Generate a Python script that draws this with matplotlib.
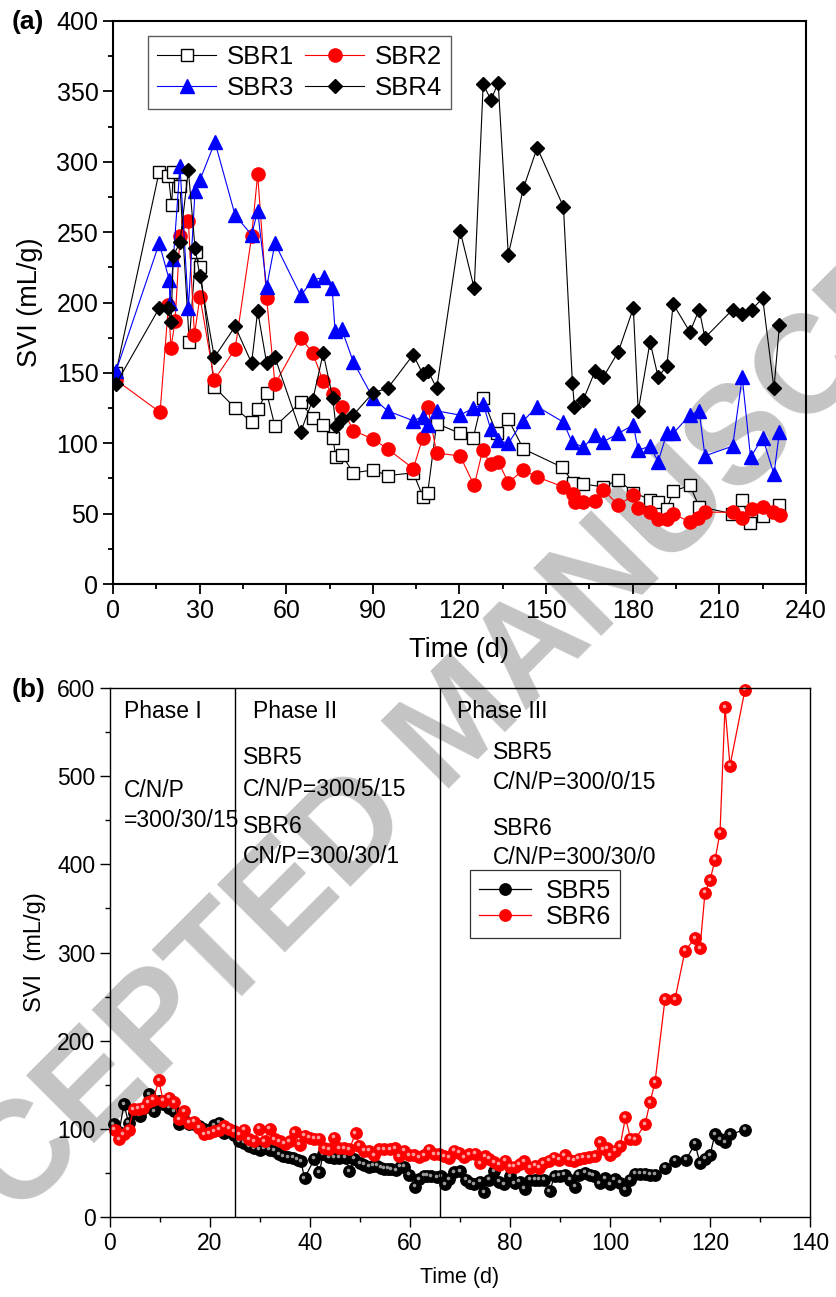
import matplotlib
matplotlib.use("Agg")
import matplotlib.pyplot as plt
from matplotlib.ticker import MultipleLocator
from matplotlib.transforms import offset_copy

# ---- panel (a): SVI of SBR1-SBR4 ----
days_sbr1 = [1, 16.0, 19.2, 20.3, 20.9, 23.2, 26.4, 28.7, 30.1, 35.1,
             42.3, 48.0, 50.1, 53.2, 56.1, 65.0, 69.2, 72.8, 76.1, 77.2,
             79.2, 83.2, 90.1, 95.1, 104.0, 107.3, 109.0, 112.1, 120.2, 124.8,
             128.0, 132.9, 136.9, 142.1, 155.5, 159.4, 162.9, 169.8, 175.0, 180.2,
             186.0, 188.8, 191.8, 194.0, 199.8, 203.0, 214.3, 217.9, 220.6, 225.0,
             230.8]
svi_sbr1 = [150, 293, 290, 269, 293, 283, 172, 236, 225, 140,
            125, 115, 124, 136, 112, 129, 118, 113, 104, 90,
            92, 79, 81, 77, 79, 62, 65, 114, 107, 104,
            132, 107, 117, 96, 83, 72, 71, 69, 74, 65,
            60, 58, 53, 66, 70, 55, 50, 60, 43, 48,
            56]

days_sbr2 = [1, 16.3, 19.2, 20.1, 21.5, 23.2, 26.1, 28.2, 30.1, 35.1,
             42.3, 48.0, 50.1, 53.2, 56.1, 65.0, 69.2, 72.8, 76.3, 79.2,
             83.2, 90.1, 95.1, 104.0, 107.3, 109.0, 112.1, 120.2, 125.1, 128.0,
             130.8, 133.4, 136.9, 142.1, 146.9, 156.0, 159.4, 160.0, 162.9, 166.9,
             169.8, 175.0, 180.2, 181.9, 186.0, 188.8, 191.8, 194.0, 199.8, 202.7,
             205.0, 214.6, 217.7, 221.2, 225.0, 228.7, 231.0]
svi_sbr2 = [145, 122, 198, 168, 187, 247, 258, 177, 204, 145,
            167, 247, 291, 203, 142, 175, 164, 144, 135, 126,
            109, 103, 96, 82, 104, 126, 93, 91, 70, 95,
            85, 87, 72, 81, 76, 69, 64, 58, 58, 59,
            67, 56, 63, 54, 51, 46, 46, 50, 44, 47,
            51, 51, 47, 53, 55, 51, 49]

days_sbr3 = [1, 16.0, 19.5, 19.7, 20.9, 23.2, 26.1, 28.4, 30.1, 35.3,
             42.3, 48.0, 50.1, 53.2, 56.1, 65.0, 69.2, 73.2, 75.9, 76.9,
             79.2, 83.2, 90.1, 95.1, 104.0, 107.3, 109.0, 112.1, 120.2, 124.8,
             128.2, 130.8, 133.4, 136.9, 142.1, 146.9, 156.0, 158.9, 162.9, 166.9,
             169.8, 175.0, 180.2, 181.9, 186.0, 188.8, 191.8, 194.0, 199.8, 203.0,
             205.0, 214.6, 217.9, 220.8, 225.0, 228.9, 230.8]
svi_sbr3 = [151, 242, 216, 200, 231, 297, 196, 279, 287, 314,
            262, 248, 265, 211, 242, 205, 216, 218, 210, 180,
            181, 158, 132, 123, 116, 119, 113, 123, 120, 125,
            128, 110, 102, 100, 116, 126, 115, 101, 97, 106,
            101, 107, 113, 95, 98, 87, 107, 107, 120, 123,
            91, 98, 147, 90, 104, 78, 108]

days_sbr4 = [1, 16.0, 19.2, 20.1, 20.9, 23.2, 26.1, 28.4, 30.1, 35.1,
             42.3, 48.0, 50.1, 53.2, 56.1, 65.0, 69.2, 72.8, 76.1, 77.2,
             79.2, 83.2, 90.1, 95.1, 104.0, 107.3, 109.2, 112.1, 120.2, 125.1,
             128.2, 130.9, 133.4, 136.9, 142.1, 146.9, 156.0, 159.1, 159.8, 162.9,
             166.9, 169.8, 175.0, 180.2, 181.9, 186.0, 188.8, 191.8, 194.0, 199.8,
             203.0, 205.0, 214.6, 217.9, 221.2, 225.0, 228.9, 230.8]
svi_sbr4 = [142, 196, 196, 186, 233, 243, 294, 239, 219, 161,
            183, 157, 194, 157, 161, 108, 131, 164, 132, 112,
            117, 120, 136, 139, 163, 149, 151, 139, 251, 210,
            355, 344, 356, 234, 281, 310, 268, 143, 126, 131,
            151, 147, 165, 196, 123, 172, 147, 155, 199, 179,
            195, 175, 195, 192, 195, 203, 139, 184]

# ---- panel (b): SVI of SBR5 and SBR6 ----
days_sbr5 = [0.7, 1.8, 2.8, 3.7, 4.7, 5.9, 6.8, 7.8, 8.8, 9.8,
             10.6, 11.8, 12.8, 13.8, 14.8, 15.8, 16.8, 17.8, 18.8, 19.8,
             20.8, 21.8, 22.8, 23.8, 24.8, 25.9, 26.9, 27.9, 28.9, 29.9,
             30.9, 31.9, 32.9, 33.8, 34.6, 35.6, 36.6, 37.5, 38.2, 38.9,
             40.9, 41.9, 42.6, 43.9, 44.9, 45.9, 47.1, 47.9, 48.9, 50.0,
             50.9, 51.9, 52.7, 53.5, 54.2, 54.9, 55.6, 56.2, 57.2, 58.0,
             58.8, 59.8, 61.0, 61.8, 62.8, 63.5, 64.2, 65.5, 66.2, 67.0,
             67.8, 68.8, 70.0, 71.2, 72.0, 72.8, 74.1, 74.9, 75.8, 76.9,
             77.8, 78.8, 80.0, 80.9, 81.9, 82.9, 84.1, 85.0, 85.8, 86.8,
             87.9, 88.9, 89.9, 90.9, 92.1, 93.1, 93.7, 95.0, 96.0, 96.7,
             97.9, 99.1, 100.1, 100.9, 102.0, 103.1, 104.0, 105.0, 106.0, 107.0,
             108.0, 109.0, 111.0, 113.1, 115.2, 117.0, 118.0, 119.0, 120.0, 121.0,
             122.0, 123.0, 124.1, 127.1]
svi_sbr5 = [105, 96, 128, 107, 118, 115, 124, 139, 120, 132,
            128, 124, 120, 106, 110, 106, 106, 103, 100, 99,
            104, 107, 95, 97, 93, 86, 84, 80, 78, 76,
            78, 76, 75, 71, 69, 68, 67, 65, 63, 44,
            66, 51, 71, 68, 67, 67, 67, 52, 66, 61,
            59, 57, 58, 58, 56, 55, 55, 54, 53, 57,
            57, 48, 34, 43, 47, 47, 46, 45, 46, 37,
            43, 51, 52, 42, 39, 37, 40, 28, 42, 52,
            40, 37, 46, 38, 40, 32, 42, 42, 42, 42,
            29, 46, 47, 48, 42, 34, 48, 50, 48, 47,
            38, 44, 37, 43, 39, 31, 42, 49, 49, 49,
            48, 48, 56, 64, 65, 83, 61, 66, 70, 94,
            88, 85, 94, 99]

days_sbr6 = [0.9, 1.8, 2.7, 3.7, 4.7, 5.7, 6.6, 7.6, 8.6, 9.8,
             10.6, 11.8, 12.8, 13.8, 14.8, 15.8, 16.8, 17.8, 18.8, 19.8,
             20.8, 21.8, 22.8, 23.8, 24.8, 25.9, 26.9, 27.8, 28.9, 29.8,
             30.9, 31.9, 32.9, 33.9, 34.9, 35.9, 36.9, 37.9, 38.9, 39.9,
             40.9, 41.9, 42.9, 43.9, 44.9, 45.9, 46.9, 47.9, 49.1, 49.9,
             50.9, 51.9, 52.9, 53.9, 54.9, 56.0, 57.0, 57.8, 58.8, 59.8,
             60.8, 61.8, 62.8, 63.8, 64.8, 65.8, 66.8, 67.8, 68.9, 69.8,
             70.8, 71.8, 73.0, 74.0, 75.0, 75.9, 76.8, 77.8, 79.0, 80.0,
             80.9, 81.9, 82.8, 84.1, 85.0, 85.8, 86.6, 87.8, 88.8, 89.8,
             90.9, 91.8, 92.8, 93.7, 94.7, 95.8, 97.0, 98.0, 98.7, 99.4,
             100.1, 101.0, 102.0, 103.1, 104.1, 105.0, 107.0, 108.0, 109.0, 111.0,
             113.0, 115.0, 117.0, 118.0, 119.0, 120.0, 121.0, 122.0, 123.0, 124.0,
             127.0]
svi_sbr6 = [99, 88, 94, 99, 122, 123, 124, 130, 133, 155,
            132, 135, 130, 111, 120, 107, 108, 101, 94, 95,
            97, 99, 103, 100, 97, 94, 99, 88, 86, 100,
            86, 100, 88, 86, 83, 86, 96, 82, 92, 90,
            89, 89, 78, 77, 90, 78, 78, 77, 95, 81,
            75, 75, 70, 77, 77, 77, 78, 69, 75, 70,
            70, 68, 70, 76, 71, 71, 69, 67, 75, 73,
            68, 71, 72, 61, 69, 66, 62, 59, 64, 57,
            57, 60, 63, 56, 58, 56, 61, 64, 67, 65,
            70, 65, 64, 66, 67, 68, 69, 85, 77, 78,
            70, 75, 80, 113, 89, 88, 105, 130, 153, 247,
            247, 302, 316, 305, 368, 382, 405, 436, 578, 512,
            598]

phase_bounds = [25, 66]

plt.rcParams["font.family"] = ["Liberation Sans", "DejaVu Sans"]

fig = plt.figure(figsize=(8.37, 12.97), dpi=100)
fig.patch.set_facecolor("white")

# gray watermark behind everything
fig.text(0.55, 0.44, "ACCEPTED MANUSCRIPT", rotation=45, rotation_mode="anchor",
         ha="center", va="center", fontsize=100, fontweight="bold",
         color="#c4c4c4", zorder=-5)

ax1 = fig.add_axes([113 / 837, 1 - 584 / 1297, 693 / 837, 563 / 1297])
ax2 = fig.add_axes([110 / 837, 1 - 1217 / 1297, 700 / 837, 529 / 1297])
for ax in (ax1, ax2):
    ax.set_facecolor("none")

# --- panel (a) ---
l1, = ax1.plot(days_sbr1, svi_sbr1, "-", color="black", lw=0.8, marker="s", ms=8.5,
               mfc="white", mec="black", mew=1.0, label="SBR1")
l2, = ax1.plot(days_sbr2, svi_sbr2, "-", color="red", lw=0.8, marker="o", ms=9.5,
               mfc="red", mec="red", label="SBR2")
l3, = ax1.plot(days_sbr3, svi_sbr3, "-", color="blue", lw=0.8, marker="^", ms=10,
               mfc="blue", mec="blue", label="SBR3")
l4, = ax1.plot(days_sbr4, svi_sbr4, "-", color="black", lw=0.8, marker="D", ms=7.5,
               mfc="black", mec="black", label="SBR4")

ax1.set_xlim(0, 240)
ax1.set_ylim(0, 400)
ax1.xaxis.set_major_locator(MultipleLocator(30))
ax1.xaxis.set_minor_locator(MultipleLocator(15))
ax1.yaxis.set_major_locator(MultipleLocator(50))
ax1.yaxis.set_minor_locator(MultipleLocator(25))
ax1.tick_params(which="major", direction="out", length=7, width=1.3, labelsize=18)
ax1.tick_params(which="minor", direction="out", length=3.5, width=1.3)
for sp in ax1.spines.values():
    sp.set_linewidth(1.5)
ax1.set_xlabel("Time (d)", fontsize=19.5)
ax1.set_ylabel("SVI (mL/g)", fontsize=19.5)
ax1.xaxis.set_label_coords(0.5, -0.117)
ax1.xaxis.label.set_va("center")
ax1.yaxis.set_label_coords(-0.12, 0.5)
ax1.yaxis.label.set_va("center")

leg1 = ax1.legend(handles=[l1, l3, l2, l4], ncol=2, loc="upper left",
                  bbox_to_anchor=(0.0505, 0.973), borderaxespad=0, fontsize=18.5,
                  frameon=True, fancybox=False, edgecolor="#333333",
                  handlelength=2.3, handletextpad=0.4, columnspacing=0.45,
                  labelspacing=0.25, borderpad=0.35)
leg1.get_frame().set_linewidth(1.0)

# --- panel (b) ---
def sphere_line(ax, x, y, color, shine, label):
    line, = ax.plot(x, y, "-", color=color, lw=0.9, marker="o", ms=8.2,
                    mfc=color, mec=color, label=label, clip_on=False)
    tr = offset_copy(ax.transData, fig=fig, x=-1.0, y=1.1, units="points")
    ax.plot(x, y, ls="none", marker="o", ms=2.6, mfc=shine, mec="none",
            transform=tr, clip_on=False)
    return line

l5 = sphere_line(ax2, days_sbr5, svi_sbr5, "black", "#9a9a9a", "SBR5")
l6 = sphere_line(ax2, days_sbr6, svi_sbr6, "red", "#ff9c9c", "SBR6")

for b in phase_bounds:
    ax2.axvline(b, color="black", lw=1.0)

ax2.set_xlim(0, 140)
ax2.set_ylim(0, 600)
ax2.xaxis.set_major_locator(MultipleLocator(20))
ax2.xaxis.set_minor_locator(MultipleLocator(10))
ax2.yaxis.set_major_locator(MultipleLocator(100))
ax2.yaxis.set_minor_locator(MultipleLocator(50))
ax2.tick_params(which="major", direction="out", length=7, width=1.0, labelsize=16.5)
ax2.tick_params(which="minor", direction="out", length=3.5, width=1.0)
for sp in ax2.spines.values():
    sp.set_linewidth(1.0)
ax2.set_xlabel("Time (d)", fontsize=15.5)
ax2.set_ylabel("SVI  (mL/g)", fontsize=17)
ax2.xaxis.set_label_coords(0.5, -0.115)
ax2.xaxis.label.set_va("center")
ax2.yaxis.set_label_coords(-0.107, 0.5)
ax2.yaxis.label.set_va("center")

txt = dict(fontsize=16.5, ha="left", va="center")
ax2.text(2.8, 573, "Phase I", **txt)
ax2.text(28.6, 573, "Phase II", **txt)
ax2.text(69.4, 573, "Phase III", **txt)
ax2.text(2.8, 484, "C/N/P", **txt)
ax2.text(2.8, 450, "=300/30/15", **txt)
ax2.text(26.6, 521, "SBR5", **txt)
ax2.text(26.6, 485, "C/N/P=300/5/15", **txt)
ax2.text(26.6, 443, "SBR6", **txt)
ax2.text(26.6, 409, "CN/P=300/30/1", **txt)
ax2.text(76.6, 527, "SBR5", **txt)
ax2.text(76.6, 493, "C/N/P=300/0/15", **txt)
ax2.text(76.6, 441, "SBR6", **txt)
ax2.text(76.6, 408, "C/N/P=300/30/0", **txt)

leg2 = ax2.legend(handles=[l5, l6], loc="upper left", bbox_to_anchor=(0.514, 0.656),
                  borderaxespad=0, fontsize=18, frameon=True, fancybox=False,
                  edgecolor="black", handlelength=2.1, handletextpad=0.6,
                  labelspacing=0.1, borderpad=0.35)
leg2.get_frame().set_linewidth(0.9)

fig.text(12 / 837, 1 - 22 / 1297, "(a)", fontsize=19, fontweight="bold", va="center")
fig.text(12 / 837, 1 - 690 / 1297, "(b)", fontsize=19, fontweight="bold", va="center")

fig.savefig("out.png", dpi=100)
